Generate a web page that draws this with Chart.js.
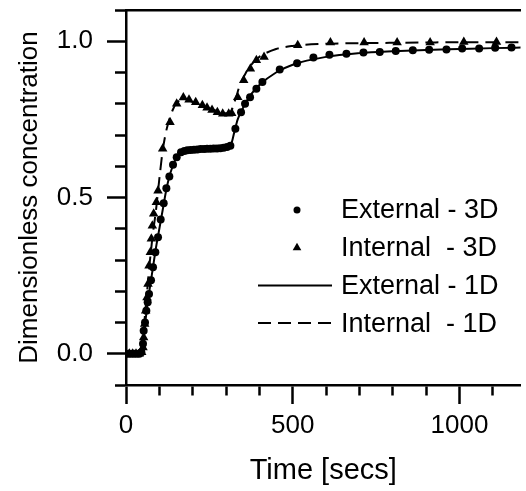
<!DOCTYPE html>
<html>
<head>
<meta charset="utf-8">
<script src="https://cdn.jsdelivr.net/npm/chart.js@4/dist/chart.umd.min.js"></script>
<style>
  html, body { margin: 0; padding: 0; background: #fff; overflow: hidden; }
  #wrap { width: 526px; height: 491px; }
</style>
</head>
<body>
<div id="wrap"><canvas id="chart" width="526" height="491"></canvas></div>
<script>
// Time [secs] and dimensionless concentration
const ext3dX = [0, 8, 16, 24, 32, 40, 46, 51, 53, 57, 61, 65, 69, 75, 81, 88, 96, 104, 113, 121, 130, 141, 152, 165, 175, 184, 194, 204, 214, 224, 234, 243, 253, 263, 273, 283, 293, 303, 313, 328, 345, 357, 372, 391, 409, 461, 513, 562, 610, 661, 712, 761, 809, 860, 909, 961, 1008, 1059, 1107, 1156];
const ext3dY = [0, 0, 0, 0, 0, 0, 0.005, 0.032, 0.074, 0.10, 0.138, 0.165, 0.191, 0.235, 0.277, 0.325, 0.373, 0.43, 0.482, 0.53, 0.567, 0.605, 0.629, 0.645, 0.649, 0.651, 0.652, 0.653, 0.654, 0.655, 0.655, 0.656, 0.656, 0.657, 0.657, 0.658, 0.659, 0.662, 0.666, 0.72, 0.773, 0.80, 0.821, 0.848, 0.87, 0.91, 0.93, 0.948, 0.957, 0.96, 0.964, 0.966, 0.969, 0.971, 0.973, 0.974, 0.977, 0.977, 0.979, 0.98];

const int3dX = [0, 10, 20, 30, 40, 47, 51, 53, 56, 59, 63, 66, 69, 73, 76, 79, 83, 91, 96, 110, 132, 152, 172, 189, 209, 229, 243, 258, 274, 290, 308, 317, 335, 353, 373, 391, 414, 515, 613, 714, 813, 912, 1013, 1111];
const int3dY = [0, 0, 0, 0, 0, 0.005, 0.02, 0.052, 0.095, 0.138, 0.18, 0.223, 0.282, 0.325, 0.368, 0.41, 0.448, 0.485, 0.522, 0.656, 0.741, 0.80, 0.82, 0.813, 0.805, 0.795, 0.787, 0.78, 0.773, 0.768, 0.768, 0.77, 0.821, 0.875, 0.912, 0.939, 0.95, 0.987, 0.996, 0.996, 0.996, 0.996, 0.998, 0.998];

const ext1dX = [0, 45, 50, 60, 70, 80, 90, 100, 110, 120, 130, 140, 150, 165, 180, 200, 250, 300, 315, 325, 335, 350, 375, 400, 450, 500, 600, 700, 800, 900, 1000, 1100, 1200];
const ext1dY = [0, 0, 0.02, 0.12, 0.2, 0.27, 0.34, 0.4, 0.46, 0.52, 0.567, 0.6, 0.625, 0.645, 0.65, 0.653, 0.656, 0.66, 0.67, 0.71, 0.75, 0.785, 0.83, 0.86, 0.9, 0.925, 0.95, 0.962, 0.968, 0.972, 0.975, 0.978, 0.98];

const int1dX = [0, 45, 50, 55, 60, 65, 70, 75, 80, 90, 100, 110, 120, 130, 140, 150, 160, 175, 200, 250, 300, 315, 320, 330, 340, 360, 380, 400, 450, 500, 600, 700, 800, 900, 1000, 1100, 1200];
const int1dY = [0, 0, 0.02, 0.1, 0.16, 0.22, 0.28, 0.33, 0.38, 0.46, 0.56, 0.65, 0.71, 0.75, 0.78, 0.80, 0.81, 0.815, 0.805, 0.785, 0.77, 0.77, 0.79, 0.82, 0.855, 0.9, 0.93, 0.95, 0.975, 0.985, 0.992, 0.994, 0.995, 0.996, 0.997, 0.997, 0.997];

// ticks: every 0.1 / 100, labels only on the major ones
const yTicks = [-0.1, 0, 0.1, 0.2, 0.3, 0.4, 0.5, 0.6, 0.7, 0.8, 0.9, 1, 1.1];
const yMajor = [0, 0.5, 1];
const xTicks = [0, 100, 200, 300, 400, 500, 600, 700, 800, 900, 1000, 1100];
const xMajor = [0, 500, 1000];

const FONT = '"Liberation Sans", Arial, sans-serif';

const toPoints = (xs, ys) => xs.map((x, i) => ({ x: x, y: ys[i] }));

// legend drawn inside the plot, as in the original figure
const legendPlugin = {
  id: 'insideLegend',
  afterDatasetsDraw(chart) {
    const { ctx, chartArea } = chart;
    const rows = [
      { ds: 2, text: 'External - 3D' },
      { ds: 3, text: 'Internal  - 3D' },
      { ds: 0, text: 'External - 1D' },
      { ds: 1, text: 'Internal  - 1D' },
    ];
    ctx.save();
    ctx.font = '27px ' + FONT;
    ctx.fillStyle = '#000';
    ctx.strokeStyle = '#000';
    ctx.textBaseline = 'middle';
    rows.forEach((row, i) => {
      const ds = chart.data.datasets[row.ds];
      const y = chartArea.top + 200 + i * 37.7;
      if (ds.showLine === false) {
        Chart.helpers.drawPoint(ctx, { pointStyle: ds.pointStyle, radius: ds.pointRadius - 0.5, rotation: 0, borderWidth: 0 }, chartArea.left + 171, y);
      } else {
        ctx.beginPath();
        ctx.lineWidth = ds.borderWidth;
        ctx.setLineDash(ds.borderDash || []);
        ctx.moveTo(chartArea.left + 132, y);
        ctx.lineTo(chartArea.left + 206, y);
        ctx.stroke();
        ctx.setLineDash([]);
      }
      ctx.fillText(row.text, chartArea.left + 215, y + 1);
    });
    ctx.restore();
  }
};

new Chart(document.getElementById('chart'), {
  type: 'scatter',
  data: {
    datasets: [
      {
        label: 'External - 1D',
        data: toPoints(ext1dX, ext1dY),
        showLine: true,
        borderColor: '#000',
        borderWidth: 2,
        pointRadius: 0,
        cubicInterpolationMode: 'monotone',
      },
      {
        label: 'Internal - 1D',
        data: toPoints(int1dX, int1dY),
        showLine: true,
        borderColor: '#000',
        borderWidth: 2,
        borderDash: [13, 7],
        pointRadius: 0,
        cubicInterpolationMode: 'monotone',
      },
      {
        label: 'External - 3D',
        data: toPoints(ext3dX, ext3dY),
        showLine: false,
        pointStyle: 'circle',
        pointRadius: 4,
        pointBackgroundColor: '#000',
        pointBorderColor: '#000',
        pointBorderWidth: 0,
      },
      {
        label: 'Internal - 3D',
        data: toPoints(int3dX, int3dY),
        showLine: false,
        pointStyle: 'triangle',
        pointRadius: 5.5,
        pointBackgroundColor: '#000',
        pointBorderColor: '#000',
        pointBorderWidth: 0,
      },
    ],
  },
  options: {
    responsive: false,
    animation: false,
    layout: { padding: 0 },
    plugins: {
      legend: { display: false },
      tooltip: { enabled: false },
    },
    scales: {
      x: {
        type: 'linear',
        position: 'bottom',
        min: 0,
        max: 1183,
        afterBuildTicks: (axis) => { axis.ticks = xTicks.map(v => ({ value: v })); },
        afterFit: (axis) => { axis.height = 106; axis.paddingLeft = 0; axis.paddingRight = 0; },
        ticks: {
          autoSkip: false,
          maxRotation: 0,
          padding: 6,
          color: '#000',
          font: { family: FONT, size: 26 },
          callback: (v) => xMajor.includes(v) ? String(v) : '',
        },
        grid: {
          drawOnChartArea: false,
          tickLength: 19,
          tickWidth: 2.5,
          tickColor: '#000',
          tickBorderDash: (c) => (c.tick && xMajor.includes(c.tick.value)) ? [] : [9, 100],
        },
        border: { display: true, color: '#000', width: 2.5 },
        title: {
          display: true,
          text: 'Time [secs]',
          color: '#000',
          font: { family: FONT, size: 29 },
          padding: { top: 0, bottom: 3 },
        },
      },
      xTop: {
        type: 'linear',
        position: 'top',
        min: 0,
        max: 1183,
        afterFit: (axis) => { axis.height = 10; },
        ticks: { display: false },
        grid: { display: false },
        border: { display: true, color: '#000', width: 2.5 },
      },
      y: {
        type: 'linear',
        position: 'left',
        min: -0.1,
        max: 1.1,
        afterBuildTicks: (axis) => { axis.ticks = yTicks.map(v => ({ value: v })); },
        afterFit: (axis) => { axis.width = 126; axis.paddingTop = 0; axis.paddingBottom = 0; },
        ticks: {
          autoSkip: false,
          padding: 14,
          color: '#000',
          font: { family: FONT, size: 26 },
          callback: (v) => yMajor.includes(v) ? v.toFixed(1) : '',
        },
        grid: {
          drawOnChartArea: false,
          tickLength: 19,
          tickWidth: 2.5,
          tickColor: '#000',
          tickBorderDash: (c) => (c.tick && yMajor.includes(c.tick.value)) ? [] : [0, 8, 12, 100],
        },
        border: { display: true, color: '#000', width: 2.5 },
        title: {
          display: true,
          text: 'Dimensionless concentration',
          color: '#000',
          font: { family: FONT, size: 26 },
          padding: { top: 14, bottom: 0 },
        },
      },
    },
  },
  plugins: [legendPlugin],
});
</script>
</body>
</html>
